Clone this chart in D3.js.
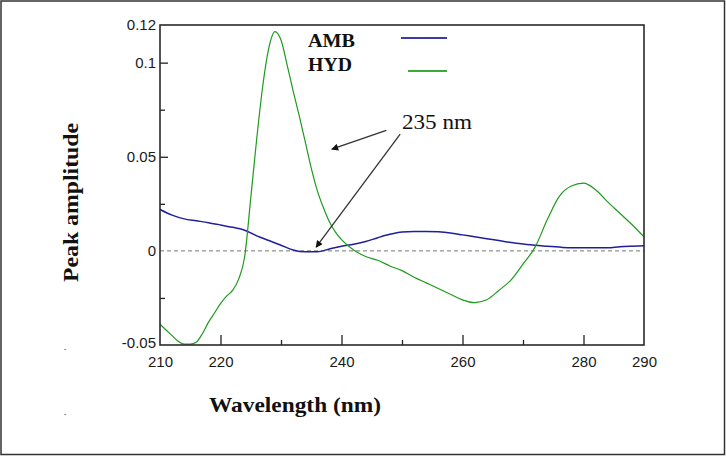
<!DOCTYPE html>
<html>
<head>
<meta charset="utf-8">
<script src="https://cdn.jsdelivr.net/npm/d3@7"></script>
<style>
  html, body { margin: 0; padding: 0; background: #fff; }
  svg { display: block; }
</style>
</head>
<body>
<div id="chart"></div>
<script>
// AMB spectrum (blue), every 2 nm
const ambWavelength = [210,212,214,216,218,220,222,224,226,228,230,232,234,236,238,240,242,244,246,248,250,
  252,254,256,258,260,262,264,266,268,270,272,274,276,278,280,282,284,286,288,290];
const ambValues = [0.022,0.019,0.017,0.016,0.015,0.0138,0.0125,0.011,0.008,0.0055,0.003,0.0005,-0.0005,-0.0005,
  0.001,0.0025,0.0035,0.005,0.007,0.0088,0.0100,0.0103,0.0103,0.0101,0.0095,0.0085,0.0075,0.0065,0.0055,0.0045,
  0.0037,0.003,0.0025,0.002,0.0016,0.0016,0.0016,0.0016,0.0022,0.0025,0.0027];

// HYD spectrum (green)
const hydWavelength = [210,211,212,213,214,215,216,217,218,219,220,221,222,223,224,225,226,227,228,229,230,
  231,232,233,234,235,236,237,238,239,240,242,244,246,248,250,252,254,256,258,260,262,264,266,268,270,272,
  274,276,278,280,282,284,286,288,290];
const hydValues = [-0.039,-0.042,-0.045,-0.048,-0.0495,-0.0495,-0.0485,-0.044,-0.038,-0.033,-0.028,-0.024,
  -0.021,-0.015,-0.003,0.028,0.060,0.088,0.108,0.1165,0.112,0.099,0.085,0.072,0.058,0.044,0.032,0.023,0.0155,
  0.010,0.006,0.0005,-0.003,-0.005,-0.008,-0.0105,-0.014,-0.017,-0.020,-0.023,-0.026,-0.0275,-0.026,-0.021,
  -0.0155,-0.007,0.002,0.0165,0.029,0.0345,0.036,0.0325,0.026,0.020,0.014,0.0074];

const xLabelTicks = [210, 220, 240, 260, 280, 290];
const xMajorTicks = [220, 240, 260, 280];
const xMinorTicks = [230, 250, 270];
const yLabelTicks = [-0.05, 0, 0.05, 0.1, 0.12];
const yMajorTicks = [0.05, 0.1];
const yMinorTicks = [-0.025, 0.025, 0.075];

const seriesNames = ["AMB", "HYD"];
const seriesColors = ["#1f1f9c", "#1e9a1e"];
const legendColors = ["#3b3bab", "#3aaa3a"];

const width = 726, height = 456;
const margin = {top: 25, right: 82, bottom: 111, left: 160};

const svg = d3.select("#chart").append("svg")
    .attr("width", width)
    .attr("height", height);

// outer frame of the figure
svg.append("rect")
    .attr("x", 1).attr("y", 1)
    .attr("width", width - 2.5).attr("height", height - 2.5)
    .attr("fill", "none")
    .attr("stroke", "#333")
    .attr("stroke-width", 1.5);

const x = d3.scaleLinear().domain([210, 290]).range([margin.left, width - margin.right]);
const y = d3.scaleLinear().domain([-0.05, 0.12]).range([height - margin.bottom, margin.top]);

const fmt = d => d === 0 ? "0" : String(d);

// x axis: labels, then inward ticks
svg.append("g")
    .attr("transform", `translate(0,${y(-0.05)})`)
    .call(d3.axisBottom(x).tickValues(xLabelTicks).tickSize(0).tickPadding(11).tickFormat(fmt));
svg.append("g")
    .attr("transform", `translate(0,${y(-0.05)})`)
    .call(d3.axisBottom(x).tickValues(xMajorTicks).tickSize(-10).tickFormat(""));
svg.append("g")
    .attr("transform", `translate(0,${y(-0.05)})`)
    .call(d3.axisBottom(x).tickValues(xMinorTicks).tickSize(-5).tickFormat(""));

// y axis
const yAxisG = svg.append("g")
    .attr("transform", `translate(${x(210)},0)`)
    .call(d3.axisLeft(y).tickValues(yLabelTicks).tickSize(0).tickPadding(4).tickFormat(fmt));
svg.append("g")
    .attr("transform", `translate(${x(210)},0)`)
    .call(d3.axisLeft(y).tickValues(yMajorTicks).tickSize(-8).tickFormat(""));
svg.append("g")
    .attr("transform", `translate(${x(210)},0)`)
    .call(d3.axisLeft(y).tickValues(yMinorTicks).tickSize(-5).tickFormat(""));

svg.selectAll(".domain").remove();
svg.selectAll(".tick line").attr("stroke", "#222").attr("stroke-width", 1.3);
svg.selectAll(".tick text")
    .attr("font-family", "'Liberation Sans', Arial, sans-serif")
    .attr("font-size", 15)
    .attr("fill", "#1a1a1a");
yAxisG.selectAll(".tick text").filter(d => d === -0.05).attr("dy", "0.15em");

// zero line
svg.append("line")
    .attr("x1", x(210)).attr("x2", x(290))
    .attr("y1", y(0)).attr("y2", y(0))
    .attr("stroke", "#777")
    .attr("stroke-width", 1)
    .attr("stroke-dasharray", "4,3");

const line = d3.line()
    .x(d => x(d[0]))
    .y(d => y(d[1]))
    .curve(d3.curveMonotoneX);

const series = [
    d3.zip(ambWavelength, ambValues),
    d3.zip(hydWavelength, hydValues)
];

svg.selectAll(".series")
    .data(series)
    .enter()
    .append("path")
    .attr("class", "series")
    .attr("d", line)
    .attr("fill", "none")
    .attr("stroke", (d, i) => seriesColors[i])
    .attr("stroke-width", (d, i) => i === 0 ? 1.5 : 1.2);

// plot frame
svg.append("rect")
    .attr("x", x(210)).attr("y", y(0.12))
    .attr("width", x(290) - x(210)).attr("height", y(-0.05) - y(0.12))
    .attr("fill", "none")
    .attr("stroke", "#2a2a2a")
    .attr("stroke-width", 1.6);

// legend
const legend = svg.append("g");
seriesNames.forEach((name, i) => {
    legend.append("text")
        .attr("x", 308)
        .attr("y", 47 + i * 24)
        .attr("font-family", "'Liberation Serif', 'Times New Roman', serif")
        .attr("font-weight", "bold")
        .attr("font-size", 18)
        .attr("textLength", i === 0 ? 47 : 44)
        .attr("lengthAdjust", "spacingAndGlyphs")
        .attr("fill", "#111")
        .text(name);
});
legend.append("line")
    .attr("x1", 401).attr("x2", 447).attr("y1", 38).attr("y2", 38)
    .attr("stroke", legendColors[0]).attr("stroke-width", 2.2);
legend.append("line")
    .attr("x1", 408).attr("x2", 447).attr("y1", 71).attr("y2", 71)
    .attr("stroke", legendColors[1]).attr("stroke-width", 2.2);

// annotation: 235 nm
const defs = svg.append("defs");
defs.append("marker")
    .attr("id", "arrow")
    .attr("viewBox", "0 0 10 10")
    .attr("refX", 9).attr("refY", 5)
    .attr("markerWidth", 9).attr("markerHeight", 7)
    .attr("markerUnits", "userSpaceOnUse")
    .attr("orient", "auto")
    .append("path")
    .attr("d", "M0,0 L10,5 L0,10 Z")
    .attr("fill", "#111");

const arrows = [
    {from: [247.4, 0.064], to: [238.4, 0.054]},
    {from: [249.7, 0.062], to: [235.8, 0.002]}
];
arrows.forEach(a => {
    svg.append("line")
        .attr("x1", x(a.from[0])).attr("y1", y(a.from[1]))
        .attr("x2", x(a.to[0])).attr("y2", y(a.to[1]))
        .attr("stroke", "#333")
        .attr("stroke-width", 1.3)
        .attr("marker-end", "url(#arrow)");
});

svg.append("text")
    .attr("x", 402)
    .attr("y", 129)
    .attr("font-family", "'Liberation Serif', 'Times New Roman', serif")
    .attr("font-size", 21)
    .attr("textLength", 70)
    .attr("lengthAdjust", "spacingAndGlyphs")
    .attr("fill", "#111")
    .text("235 nm");

// axis titles
svg.append("text")
    .attr("x", 209)
    .attr("y", 412)
    .attr("font-family", "'Liberation Serif', 'Times New Roman', serif")
    .attr("font-weight", "bold")
    .attr("font-size", 21)
    .attr("textLength", 172)
    .attr("lengthAdjust", "spacingAndGlyphs")
    .attr("fill", "#111")
    .text("Wavelength (nm)");

svg.append("text")
    .attr("transform", "translate(78,282) rotate(-90)")
    .attr("font-family", "'Liberation Serif', 'Times New Roman', serif")
    .attr("font-weight", "bold")
    .attr("font-size", 21)
    .attr("textLength", 159)
    .attr("lengthAdjust", "spacingAndGlyphs")
    .attr("fill", "#111")
    .text("Peak amplitude");

// stray marks at the left
[348, 413].forEach(py => {
    svg.append("text")
        .attr("x", 65).attr("y", py + 3)
        .attr("text-anchor", "middle")
        .attr("font-family", "'Liberation Sans', Arial, sans-serif")
        .attr("font-size", 8)
        .attr("fill", "#333")
        .text("-");
});
</script>
</body>
</html>
